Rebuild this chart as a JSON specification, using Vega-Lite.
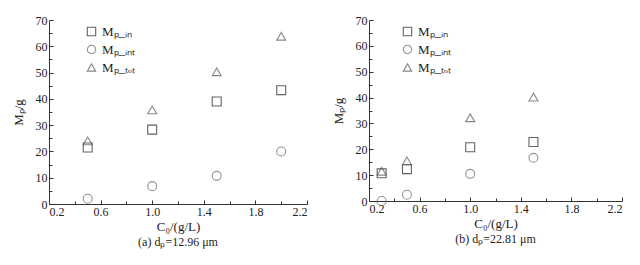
{
  "$schema": "https://vega.github.io/schema/vega-lite/v6.json",
  "background": "white",
  "padding": {"left": 12, "top": 14, "right": 5, "bottom": 5},
  "config": {
    "font": "Liberation Serif",
    "view": {"stroke": null},
    "axis": {"labelFont": "Liberation Serif", "titleFont": "Liberation Serif", "labelFontSize": 12, "titleFontSize": 13, "titleFontWeight": "normal", "labelColor": "#222", "titleColor": "#222", "domainColor": "#333", "tickColor": "#333", "grid": false},
    "title": {"font": "Liberation Serif", "fontSize": 12, "fontWeight": "normal", "color": "#222"},
    "legend": {"labelFont": "Liberation Serif", "labelFontSize": 13, "labelColor": "#222"}
  },
  "datasets": {
    "a": [
      {"c0": 0.5, "series": "Mₚ_ᵢₙ", "m": 21.5},
      {"c0": 1.0, "series": "Mₚ_ᵢₙ", "m": 28.3},
      {"c0": 1.5, "series": "Mₚ_ᵢₙ", "m": 39.0},
      {"c0": 2.0, "series": "Mₚ_ᵢₙ", "m": 43.3},
      {"c0": 0.5, "series": "Mₚ_ᵢₙₜ", "m": 2.0},
      {"c0": 1.0, "series": "Mₚ_ᵢₙₜ", "m": 6.8},
      {"c0": 1.5, "series": "Mₚ_ᵢₙₜ", "m": 10.7},
      {"c0": 2.0, "series": "Mₚ_ᵢₙₜ", "m": 20.0},
      {"c0": 0.5, "series": "Mₚ_ₜₒₜ", "m": 24.0},
      {"c0": 1.0, "series": "Mₚ_ₜₒₜ", "m": 35.8},
      {"c0": 1.5, "series": "Mₚ_ₜₒₜ", "m": 50.3},
      {"c0": 2.0, "series": "Mₚ_ₜₒₜ", "m": 63.8}
    ],
    "b": [
      {"c0": 0.3, "series": "Mₚ_ᵢₙ", "m": 10.7},
      {"c0": 0.5, "series": "Mₚ_ᵢₙ", "m": 12.3},
      {"c0": 1.0, "series": "Mₚ_ᵢₙ", "m": 20.8},
      {"c0": 1.5, "series": "Mₚ_ᵢₙ", "m": 22.8},
      {"c0": 0.3, "series": "Mₚ_ᵢₙₜ", "m": 0.0},
      {"c0": 0.5, "series": "Mₚ_ᵢₙₜ", "m": 2.4},
      {"c0": 1.0, "series": "Mₚ_ᵢₙₜ", "m": 10.5},
      {"c0": 1.5, "series": "Mₚ_ᵢₙₜ", "m": 16.7},
      {"c0": 0.3, "series": "Mₚ_ₜₒₜ", "m": 11.5},
      {"c0": 0.5, "series": "Mₚ_ₜₒₜ", "m": 15.5},
      {"c0": 1.0, "series": "Mₚ_ₜₒₜ", "m": 32.2},
      {"c0": 1.5, "series": "Mₚ_ₜₒₜ", "m": 40.2}
    ]
  },
  "spacing": 24,
  "resolve": {"legend": {"shape": "independent", "color": "independent"}, "scale": {"shape": "independent", "color": "independent"}},
  "hconcat": [
    {
      "data": {"name": "a"},
      "width": 258,
      "height": 184,
      "title": {"text": "(a) dₚ=12.96 μm", "orient": "bottom", "offset": 4},
      "mark": {"type": "point", "filled": false, "size": 80, "strokeWidth": 1.1},
      "encoding": {
        "x": {"field": "c0", "type": "quantitative", "scale": {"domain": [0.2, 2.2], "nice": false}, "title": "C₀/(g/L)",
          "axis": {"values": [0.2, 0.4, 0.6, 0.8, 1.0, 1.2, 1.4, 1.6, 1.8, 2.0, 2.2], "labelExpr": "abs(round(datum.value*10) % 4 - 2) < 0.01 ? format(datum.value, '.1f') : ''", "tickSize": {"condition": {"test": "abs(round(datum.value*10) % 4 - 2) < 0.01", "value": -4}, "value": -3}, "labelPadding": 6, "titlePadding": 3}},
        "y": {"field": "m", "type": "quantitative", "scale": {"domain": [0, 70], "nice": false}, "title": "Mₚ/g",
          "axis": {"values": [0, 5, 10, 15, 20, 25, 30, 35, 40, 45, 50, 55, 60, 65, 70], "labelExpr": "datum.value % 10 === 0 ? datum.label : ''", "tickSize": {"condition": {"test": "datum.value % 10 === 0", "value": -4}, "value": -3}, "labelPadding": 6, "titlePadding": 10}},
        "shape": {"field": "series", "type": "nominal", "scale": {"domain": ["Mₚ_ᵢₙ", "Mₚ_ᵢₙₜ", "Mₚ_ₜₒₜ"], "range": ["square", "circle", "triangle-up"]},
          "legend": {"title": null, "orient": "none", "legendX": 36, "legendY": 5, "symbolSize": 70, "rowPadding": 4, "symbolStrokeWidth": 1.1}},
        "color": {"field": "series", "type": "nominal", "scale": {"domain": ["Mₚ_ᵢₙ", "Mₚ_ᵢₙₜ", "Mₚ_ₜₒₜ"], "range": ["#222222", "#666666", "#555555"]},
          "legend": {"title": null, "orient": "none", "legendX": 36, "legendY": 5, "symbolSize": 70, "rowPadding": 4, "symbolStrokeWidth": 1.1}}
      }
    },
    {
      "data": {"name": "b"},
      "width": 253,
      "height": 181,
      "title": {"text": "(b) dₚ=22.81 μm", "orient": "bottom", "offset": 4},
      "mark": {"type": "point", "filled": false, "size": 80, "strokeWidth": 1.1},
      "encoding": {
        "x": {"field": "c0", "type": "quantitative", "scale": {"domain": [0.2, 2.2], "nice": false}, "title": "C₀/(g/L)",
          "axis": {"values": [0.2, 0.4, 0.6, 0.8, 1.0, 1.2, 1.4, 1.6, 1.8, 2.0, 2.2], "labelExpr": "abs(round(datum.value*10) % 4 - 2) < 0.01 ? format(datum.value, '.1f') : ''", "tickSize": {"condition": {"test": "abs(round(datum.value*10) % 4 - 2) < 0.01", "value": -4}, "value": -3}, "labelPadding": 6, "titlePadding": 3}},
        "y": {"field": "m", "type": "quantitative", "scale": {"domain": [0, 70], "nice": false}, "title": "Mₚ/g",
          "axis": {"values": [0, 5, 10, 15, 20, 25, 30, 35, 40, 45, 50, 55, 60, 65, 70], "labelExpr": "datum.value % 10 === 0 ? datum.label : ''", "tickSize": {"condition": {"test": "datum.value % 10 === 0", "value": -4}, "value": -3}, "labelPadding": 6, "titlePadding": 10}},
        "shape": {"field": "series", "type": "nominal", "scale": {"domain": ["Mₚ_ᵢₙ", "Mₚ_ᵢₙₜ", "Mₚ_ₜₒₜ"], "range": ["square", "circle", "triangle-up"]},
          "legend": {"title": null, "orient": "none", "legendX": 32, "legendY": 5, "symbolSize": 70, "rowPadding": 4, "symbolStrokeWidth": 1.1}},
        "color": {"field": "series", "type": "nominal", "scale": {"domain": ["Mₚ_ᵢₙ", "Mₚ_ᵢₙₜ", "Mₚ_ₜₒₜ"], "range": ["#222222", "#666666", "#555555"]},
          "legend": {"title": null, "orient": "none", "legendX": 32, "legendY": 5, "symbolSize": 70, "rowPadding": 4, "symbolStrokeWidth": 1.1}}
      }
    }
  ]
}
